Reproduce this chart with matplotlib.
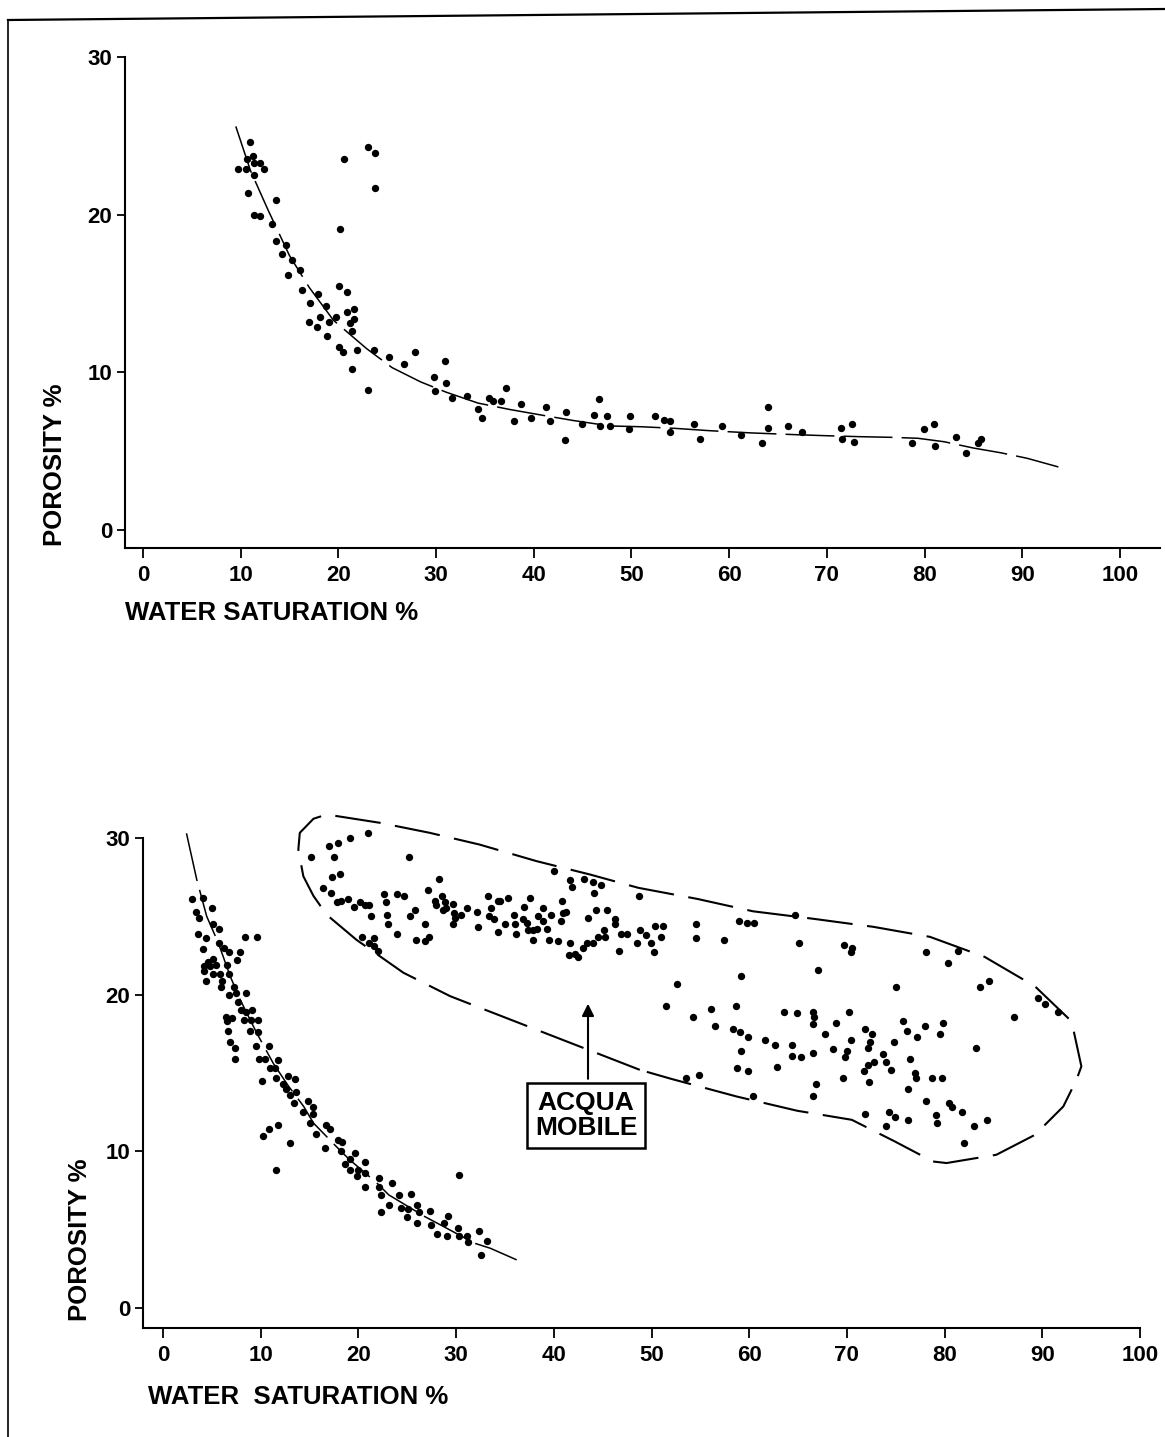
import matplotlib
matplotlib.use('Agg')
import matplotlib.pyplot as plt
from matplotlib.lines import Line2D

plt.rcParams['font.family'] = ['Liberation Sans', 'DejaVu Sans']

# ---- upper chart: porosity vs water saturation ----
top_sw = [11.0, 9.7, 10.5, 10.6, 11.3, 11.4, 12.0, 12.4, 11.4, 10.8, 13.6, 11.4, 12.0, 13.2, 13.6,
          14.6, 14.2, 15.3, 14.8, 16.1, 16.3, 17.9, 17.1, 18.7, 18.1, 17.0, 17.8, 19.0, 18.8, 19.8,
          20.2, 20.6, 23.0, 23.7, 23.8, 20.1, 20.9, 20.9, 21.6, 21.6, 21.2, 21.4, 20.1, 20.5, 21.9,
          21.4, 23.0, 23.6, 25.2, 26.7, 27.8, 30.9, 29.8, 31.0, 29.9, 31.6, 33.2, 34.3, 34.7, 35.4,
          35.8, 36.6, 37.2, 38.0, 38.7, 39.7, 41.3, 41.7, 43.3, 43.2, 44.9, 46.2, 46.7, 46.8, 47.5,
          47.8, 49.9, 49.7, 52.4, 53.3, 53.9, 53.9, 56.4, 57.0, 59.3, 61.2, 64.0, 64.0, 63.4, 66.0,
          67.5, 71.4, 72.6, 71.5, 72.8, 78.7, 79.9, 81.0, 81.1, 83.2, 84.2, 85.5, 85.8]
top_phi = [24.6, 22.9, 22.9, 23.5, 23.7, 23.3, 23.3, 22.9, 22.5, 21.4, 20.9, 20.0, 19.9, 19.4, 18.3,
           18.1, 17.5, 17.1, 16.2, 16.5, 15.2, 15.0, 14.4, 14.2, 13.5, 13.2, 12.9, 13.2, 12.3, 13.5,
           19.1, 23.5, 24.3, 23.9, 21.7, 15.5, 15.1, 13.8, 14.0, 13.4, 13.1, 12.6, 11.6, 11.3, 11.4,
           10.2, 8.9, 11.4, 11.0, 10.5, 11.3, 10.7, 9.7, 9.3, 8.8, 8.4, 8.5, 7.7, 7.1, 8.4,
           8.2, 8.2, 9.0, 6.9, 8.0, 7.1, 7.8, 6.9, 7.5, 5.7, 6.7, 7.3, 8.3, 6.6, 7.2,
           6.6, 7.2, 6.4, 7.2, 7.0, 6.9, 6.2, 6.7, 5.8, 6.6, 6.0, 7.8, 6.5, 5.5, 6.6,
           6.2, 6.5, 6.7, 5.8, 5.6, 5.5, 6.4, 6.7, 5.3, 5.9, 4.9, 5.5, 5.8]
top_fit_sw = [9.5, 11.0, 12.8, 15.0, 17.0, 19.5, 22.9, 25.5, 28.4, 31.0, 34.3, 37.5, 40.7, 44.0,
              47.8, 51.0, 54.4, 58.0, 62.2, 66.7, 70.0, 73.4, 76.5, 79.3, 82.0, 85.0, 87.8, 90.5, 93.7]
top_fit_phi = [25.6, 22.8, 20.3, 17.4, 15.4, 13.3, 11.5, 10.3, 9.4, 8.75, 8.05, 7.65, 7.3, 6.95,
               6.6, 6.55, 6.45, 6.3, 6.16, 6.05, 5.98, 5.92, 5.88, 5.82, 5.6, 5.2, 4.9, 4.55, 4.0]

# ---- lower chart ----
bot_sw = [3.0, 4.1, 5.0, 3.4, 3.7, 3.6, 5.1, 5.7, 4.4, 4.1, 5.1, 4.6, 4.2, 4.2, 4.8, 5.4, 5.1, 5.8,
          4.4, 5.7, 6.2, 6.8, 7.9, 7.6, 6.5, 6.8, 6.0, 5.9, 7.3, 6.8, 7.5, 8.5, 7.7, 8.0, 8.5, 9.1,
          6.4, 7.1, 6.5, 8.3, 9.0, 9.7, 6.6, 8.9, 9.7, 6.9, 7.4, 9.5, 10.8, 7.4, 9.8, 10.4, 11.8,
          10.9, 11.5, 10.1, 11.6, 12.8, 13.5, 12.3, 12.6, 13.0, 13.6, 13.4, 14.3, 14.8, 15.3, 15.3,
          8.4, 9.6,
          10.2, 10.8, 11.8, 13.0, 11.6, 15.0, 15.7, 16.7, 17.1, 16.6, 17.9, 18.3, 18.2, 18.6, 19.1,
          19.7, 19.1, 20.0, 19.9, 20.7, 20.7, 20.7, 22.1, 22.1, 22.3, 22.3, 23.1, 23.4, 24.2, 24.4,
          25.0, 25.4, 25.1, 26.0, 26.2, 26.0, 27.3, 27.4, 28.0, 28.8, 29.2, 29.1, 30.2, 30.3, 31.1,
          31.2, 32.3, 32.5, 33.2, 30.3,
          15.1, 17.0, 17.9, 19.1, 21.0, 17.5, 25.2, 17.3, 18.1, 16.4, 17.2, 17.8, 18.2, 18.9, 19.5,
          20.2, 20.7, 21.1, 21.3, 20.4, 21.1, 21.6, 21.6, 22.0, 22.6, 22.8, 23.9, 24.7, 22.9, 23.0,
          23.9, 25.3, 25.8, 26.8, 25.9, 26.8, 27.2, 27.1, 28.2, 27.8, 27.9, 28.6, 28.9, 28.7, 29.7,
          29.0, 29.8, 29.9, 29.7, 30.5, 31.1, 32.1, 32.2, 33.3, 33.6, 33.4, 33.9, 34.3, 34.5, 35.3,
          34.3, 35.0, 35.9, 36.0, 36.1, 36.8, 36.9, 37.3, 37.4, 37.6, 37.9, 37.9, 38.4, 38.3, 38.9,
          38.9, 39.3, 39.7, 39.5, 40.4, 40.9, 40.8, 40.7, 41.2, 40.0, 41.7, 41.9, 43.1, 44.0, 44.8,
          44.1, 41.7, 41.6, 42.2, 42.5, 43.0, 43.4, 44.0, 43.5, 44.3, 44.5, 45.2, 45.4, 45.1, 46.3,
          46.3, 46.7, 46.9, 47.5, 48.5, 48.8, 48.7, 49.4, 50.4, 51.2, 49.9, 50.3, 51.0, 54.6, 54.6,
          57.4, 52.6,
          51.5, 54.2, 56.1, 56.5, 53.5, 54.9, 59.0, 59.8, 60.5, 64.7, 65.1, 69.7, 70.5, 70.4, 67.0,
          59.2, 58.6, 58.3, 59.1, 59.9, 59.2, 58.8, 59.9, 60.4, 61.6, 62.6, 62.8, 63.6, 64.9, 64.4,
          64.4, 65.3, 66.5, 66.6, 66.5, 66.5, 66.8, 66.5, 67.8, 68.6, 68.9, 69.8, 70.0, 69.6, 70.2,
          70.4, 71.9, 72.6, 72.4, 72.2, 71.8, 72.2, 72.8, 72.3, 73.7, 74.0, 74.5, 74.8, 75.7, 76.2,
          77.2, 78.0, 79.8, 79.5, 76.5, 77.0, 77.1, 78.7, 79.7, 76.3, 78.1, 71.9, 74.3, 74.9, 74.0,
          76.3, 79.1, 79.2, 80.5, 80.8, 81.8, 83.0, 84.3, 82.0, 78.1, 81.4, 80.3, 75.0, 83.6, 84.5,
          83.2, 87.1, 89.6, 90.3, 91.6]
bot_phi = [26.1, 26.2, 25.5, 25.3, 24.9, 23.9, 24.5, 24.2, 23.6, 22.9, 22.3, 22.1, 21.8, 21.5, 21.8,
           21.9, 21.3, 21.3, 20.9, 23.3, 23.0, 22.7, 22.7, 22.2, 21.9, 21.3, 20.9, 20.5, 20.5, 20.0,
           20.1, 20.1, 19.5, 19.0, 18.9, 19.0, 18.6, 18.5, 18.3, 18.4, 18.4, 18.4, 17.7, 17.7, 17.6,
           17.0, 16.6, 16.7, 16.7, 15.9, 15.9, 15.9, 15.8, 15.3, 15.3, 14.5, 14.7, 14.8, 14.6, 14.3,
           14.0, 13.6, 13.8, 13.1, 12.5, 13.2, 12.8, 12.4,
           23.7, 23.7,
           11.0, 11.4, 11.7, 10.5, 8.8, 11.8, 11.1, 11.7, 11.4, 10.2, 10.7, 10.6, 10.0, 9.2, 9.5,
           9.9, 8.8, 8.8, 8.4, 9.3, 8.6, 7.7, 8.3, 7.7, 7.2, 6.1, 6.6, 8.0, 7.2, 6.4,
           5.8, 7.3, 6.3, 6.6, 6.1, 5.4, 6.2, 5.3, 4.7, 5.4, 5.9, 4.6, 5.1, 4.6, 4.6,
           4.2, 4.9, 3.4, 4.3, 8.5,
           28.8, 29.5, 29.7, 30.0, 30.3, 28.8, 28.8, 27.5, 27.7, 26.8, 26.5, 25.9, 26.0, 26.1, 25.6,
           25.9, 25.7, 25.7, 25.0, 23.7, 23.3, 23.6, 23.1, 22.8, 26.4, 25.9, 26.4, 26.3, 25.1, 24.5,
           23.9, 25.0, 25.4, 24.5, 23.5, 23.4, 23.7, 26.7, 27.4, 26.0, 25.7, 26.3, 25.9, 25.4, 25.8,
           25.5, 25.2, 24.9, 24.5, 25.1, 25.5, 25.3, 24.3, 26.3, 25.5, 25.0, 24.8, 26.0, 26.0, 26.2,
           24.0, 24.5, 25.1, 24.5, 23.9, 24.8, 25.6, 24.6, 24.1, 26.2, 23.5, 24.1, 25.0, 24.2, 25.5,
           24.7, 24.2, 25.1, 23.5, 23.4, 25.2, 26.0, 24.7, 25.3, 27.9, 27.3, 26.9, 27.4, 27.2, 27.0,
           26.5, 23.3, 22.5, 22.6, 22.4, 23.0, 23.3, 23.3, 24.9, 25.4, 23.7, 23.7, 25.4, 24.1, 24.8,
           24.5, 22.8, 23.9, 23.9, 23.3, 24.1, 26.3, 23.8, 24.4, 24.4, 23.3, 22.7, 23.7, 24.5, 23.6,
           23.5, 20.7,
           19.3, 18.6, 19.1, 18.0, 14.7, 14.9, 24.7, 24.6, 24.6, 25.1, 23.3, 23.2, 23.0, 22.7, 21.6,
           21.2, 19.3, 17.8, 17.6, 17.3, 16.4, 15.3, 15.1, 13.5, 17.1, 16.8, 15.4, 18.9, 18.8, 16.8,
           16.1, 16.0, 18.9, 18.6, 18.1, 16.3, 14.3, 13.5, 17.5, 16.5, 18.2, 16.0, 16.4, 14.7, 18.9,
           17.1, 17.8, 17.5, 17.0, 16.6, 15.1, 15.5, 15.7, 14.4, 16.2, 15.7, 15.2, 17.0, 18.3, 17.7,
           17.3, 18.0, 18.2, 17.5, 15.9, 15.0, 14.7, 14.7, 14.7, 14.0, 13.2, 12.4, 12.5, 12.2, 11.6,
           12.0, 12.3, 11.8, 13.1, 12.8, 12.5, 11.6, 12.0, 10.5, 22.7, 22.8, 22.0, 20.5, 20.5, 20.9,
           16.6, 18.6, 19.8, 19.4, 18.9]
bot_fit_sw = [2.4, 3.45, 4.47, 5.66, 6.86, 7.88, 9.59, 11.3, 12.8, 14.4, 15.4, 17.9, 19.1, 21.9,
              23.1, 26.8, 28.4, 31.9, 33.5, 36.2]
bot_fit_phi = [30.3, 27.35, 25.0, 23.3, 21.2, 19.7, 17.55, 15.6, 14.2, 12.86, 11.8, 10.2, 9.46, 7.97,
               7.22, 5.83, 5.3, 4.13, 3.81, 3.07]

# dashed outline around the "acqua mobile" cloud
env_sw = [48.8, 29.4, 24.6, 19.8, 16.75, 15.4, 14.36, 13.85, 14.0, 15.4, 16.75, 22.2, 27.3, 32.4,
          38.25, 43.7, 48.65, 54.7, 60.4, 66.6, 72.7, 78.5, 84.1, 89.25, 93.0, 94.0, 93.5, 92.15,
          89.25, 85.3, 80.2, 78.8, 74.9, 70.5, 64.9, 58.7, 52.1, 48.8]
env_phi = [15.2, 19.9, 21.4, 23.5, 25.1, 26.3, 27.56, 29.27, 30.33, 31.23, 31.5, 30.97, 30.33, 29.58,
           28.52, 27.67, 26.82, 26.11, 25.32, 24.84, 24.33, 23.69, 22.41, 20.53, 18.29, 15.42, 14.57,
           12.86, 11.05, 9.78, 9.25, 9.35, 10.63, 12.01, 12.59, 13.5, 14.61, 15.2]

x_ticks = [0, 10, 20, 30, 40, 50, 60, 70, 80, 90, 100]
y_ticks = [0, 10, 20, 30]

W, H = 1165, 1437
fig = plt.figure(figsize=(W / 100, H / 100), dpi=100)
fig.patch.set_facecolor('white')


def px_axes(x0, y0, x1, y1):
    # pixel box (top-left origin) -> figure axes
    return fig.add_axes([x0 / W, 1 - y1 / H, (x1 - x0) / W, (y1 - y0) / H])


def style(ax, xlim, ylim):
    ax.set_xlim(*xlim)
    ax.set_ylim(*ylim)
    for s in ['top', 'right']:
        ax.spines[s].set_visible(False)
    for s in ['left', 'bottom']:
        ax.spines[s].set_linewidth(1.5)
    ax.spines['left'].set_bounds(ylim[0], 30)
    ax.set_xticks(x_ticks)
    ax.set_yticks(y_ticks)
    ax.tick_params(axis='both', direction='out', width=1.3, labelsize=16, colors='black')
    ax.tick_params(axis='x', length=7, pad=5)
    ax.tick_params(axis='y', length=6, pad=3)
    for t in ax.get_xticklabels() + ax.get_yticklabels():
        t.set_fontweight('bold')
    ax.set_facecolor('none')


lab = dict(fontsize=18.5, fontweight='bold')

# upper
ax1 = px_axes(125, 57, 1160, 548)
style(ax1, (-1.84, 104.1), (-1.14, 30))
ax1.plot(top_fit_sw, top_fit_phi, color='black', lw=1.1, linestyle=(0, (32, 6)), clip_on=False)
ax1.scatter(top_sw, top_phi, s=28, color='black', linewidths=0, zorder=3, clip_on=False)
ax1.text(0.0, -0.132, 'WATER SATURATION %', transform=ax1.transAxes, ha='left', va='center', **lab)
ax1.text(-0.068, 0.17, 'POROSITY %', transform=ax1.transAxes, rotation=90,
         ha='center', va='center', **lab)

# lower
ax2 = px_axes(143, 838, 1140, 1328)
style(ax2, (-2.05, 100), (-1.28, 30))
ax2.plot(bot_fit_sw, bot_fit_phi, color='black', lw=1.1, linestyle=(0, (32, 6)), clip_on=False)
ax2.plot(env_sw, env_phi, color='black', lw=1.5, linestyle=(0, (22, 7)), clip_on=False)
ax2.scatter(bot_sw, bot_phi, s=28, color='black', linewidths=0, zorder=3, clip_on=False)
ax2.annotate('', xy=(43.5, 19.6), xytext=(43.5, 14.45),
             arrowprops=dict(arrowstyle='-|>', color='black', lw=1.5, mutation_scale=18))
ax2.text(43.3, 12.3, 'ACQUA\nMOBILE', ha='center', va='center', fontsize=19, fontweight='bold',
         linespacing=1.05,
         bbox=dict(boxstyle='square,pad=0.3', facecolor='white', edgecolor='black', lw=1.8))
ax2.text(0.005, -0.141, 'WATER  SATURATION %', transform=ax2.transAxes, ha='left', va='center', **lab)
ax2.text(-0.063, 0.18, 'POROSITY %', transform=ax2.transAxes, rotation=90,
         ha='center', va='center', **lab)

# scanned page frame
fig.add_artist(Line2D([8 / W, 8 / W], [1 - 20 / H, 0], transform=fig.transFigure, color='black', lw=1.2))
fig.add_artist(Line2D([8 / W, 1.0], [1 - 20 / H, 1 - 9 / H], transform=fig.transFigure, color='black', lw=1.6))

fig.savefig('out.png', dpi=100)
